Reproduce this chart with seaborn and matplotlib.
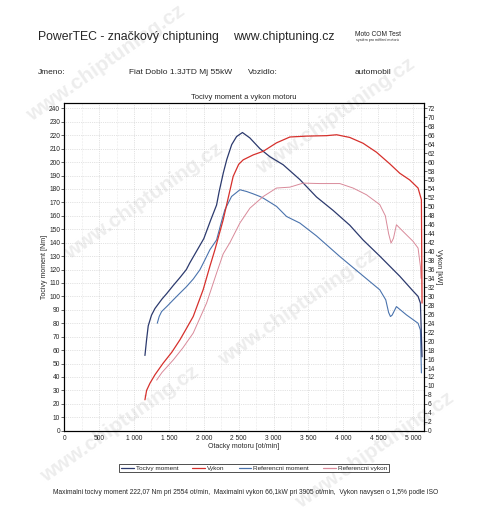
import matplotlib
matplotlib.use('Agg')
import matplotlib.pyplot as plt
import matplotlib.ticker as mticker
import seaborn as sns
import pandas as pd

# Tocivy moment [Nm]
moment_rpm = [1156, 1180, 1203, 1250, 1300, 1400, 1467, 1560, 1658, 1750, 1800, 1900, 2000,
              2100, 2183, 2220, 2280, 2330, 2400, 2470, 2554, 2660, 2804, 2947, 3138, 3377,
              3616, 3854, 4093, 4284, 4523, 4810, 5000, 5072, 5106, 5129]
moment_nm = [56, 68, 78, 86, 91, 98, 102, 108, 114, 120, 125, 134, 143,
             157, 168, 178, 192, 202, 213, 219, 222, 218, 210, 204, 198, 187,
             174, 164, 153, 142, 130, 115, 104, 100, 95, 55]

# Vykon [kW]
vykon_rpm = [1156, 1180, 1228, 1300, 1418, 1540, 1658, 1750, 1848, 1991, 2087, 2159, 2278,
             2350, 2421, 2500, 2565, 2708, 2851, 3043, 3234, 3473, 3759, 3905, 4093, 4284,
             4476, 4667, 4810, 4953, 5072, 5120, 5129]
vykon_kw = [6.9, 9.0, 10.6, 12.5, 15.1, 17.5, 20.3, 22.8, 25.5, 31.5, 36.7, 40.4, 47.1,
            52.0, 56.8, 59.5, 60.5, 61.6, 62.4, 64.3, 65.6, 65.8, 65.9, 66.1, 65.5, 64.2,
            62.2, 59.6, 57.5, 56.0, 54.2, 51.6, 28.5]

# Referencni moment [Nm]
ref_moment_rpm = [1333, 1360, 1395, 1480, 1562, 1650, 1753, 1850, 1944, 2016, 2087, 2183,
                  2250, 2302, 2398, 2518, 2613, 2700, 2804, 2851, 3043, 3186, 3377, 3616,
                  3950, 4236, 4523, 4609, 4650, 4676, 4700, 4762, 4906, 5072, 5106, 5120]
ref_moment_nm = [80, 85, 88.7, 93, 97.4, 102, 107.3, 113, 119.8, 127.2, 134.7, 142,
                 155, 164.5, 174.4, 179.4, 178.1, 176.5, 174.4, 173.2, 167, 159.5, 154.6, 145,
                 129.7, 117.3, 104.9, 97.4, 88, 85, 86, 92.4, 86.2, 80, 75, 43]

# Referencni vykon [kW]
ref_vykon_rpm = [1324, 1400, 1562, 1700, 1848, 2040, 2183, 2278, 2374, 2518, 2661, 2851,
                 3043, 3234, 3424, 3663, 3950, 4140, 4332, 4523, 4603, 4650, 4685, 4720,
                 4762, 4857, 5000, 5072, 5106, 5115]
ref_vykon_kw = [11.3, 13.0, 15.8, 18.5, 21.8, 28.5, 35.2, 39.5, 42.0, 46.4, 49.7, 52.3,
                54.2, 54.4, 55.3, 55.2, 55.2, 54.2, 52.7, 50.5, 48.0, 44.0, 41.9, 43.0,
                46.0, 44.5, 42.3, 40.8, 36.7, 34.0]

c_moment = '#2c3a6e'
c_vykon = '#d6302c'
c_ref_moment = '#4a73ad'
c_ref_vykon = '#d98a9a'

sns.set_style('white')
plt.rcParams['font.family'] = ['Liberation Sans', 'DejaVu Sans']

fig = plt.figure(figsize=(4.8, 5.3), dpi=100)

# watermark behind everything
for wx, wy in [(0.25, 0.2), (0.62, 0.42), (0.3, 0.62), (0.7, 0.78), (0.78, 0.15), (0.22, 0.88)]:
    fig.text(wx, wy, 'www.chiptuning.cz', fontsize=15, fontweight='bold', color='#ededed',
             rotation=35, ha='center', va='center', zorder=-10)

ax = fig.add_axes([0.134, 0.1874, 0.749, 0.6183])
ax.patch.set_alpha(0)
ax2 = ax.twinx()

df_m = pd.DataFrame({'rpm': moment_rpm, 'val': moment_nm})
df_rm = pd.DataFrame({'rpm': ref_moment_rpm, 'val': ref_moment_nm})
df_v = pd.DataFrame({'rpm': vykon_rpm, 'val': vykon_kw})
df_rv = pd.DataFrame({'rpm': ref_vykon_rpm, 'val': ref_vykon_kw})

sns.lineplot(data=df_rm, x='rpm', y='val', ax=ax, color=c_ref_moment, lw=0.8, sort=False)
sns.lineplot(data=df_m, x='rpm', y='val', ax=ax, color=c_moment, lw=0.9, sort=False)
sns.lineplot(data=df_rv, x='rpm', y='val', ax=ax2, color=c_ref_vykon, lw=0.7, sort=False)
sns.lineplot(data=df_v, x='rpm', y='val', ax=ax2, color=c_vykon, lw=0.9, sort=False)

ax.set_xlim(0, 5155)
ax.set_ylim(0, 244)
ax2.set_ylim(0, 244 * 0.3)

ax.xaxis.set_major_locator(mticker.MultipleLocator(500))
ax.xaxis.set_major_formatter(mticker.FuncFormatter(lambda v, p: f'{int(v):,}'.replace(',', ' ')))
ax.yaxis.set_major_locator(mticker.MultipleLocator(10))
ax2.yaxis.set_major_locator(mticker.MultipleLocator(2))

ax.grid(True, which='major', color='#c8c8c8', lw=0.5, ls=':')
ax.xaxis.set_minor_locator(mticker.MultipleLocator(250))
ax.grid(True, which='minor', axis='x', color='#d8d8d8', lw=0.4, ls=':')

for a in (ax, ax2):
    a.tick_params(axis='both', labelsize=4.8, length=2, width=0.5, pad=1)
    for s in a.spines.values():
        s.set_color('black')
        s.set_linewidth(0.8)
ax.tick_params(axis='x', which='minor', length=0)

ax.set_xlabel('Otacky motoru [ot/min]', fontsize=5, labelpad=1)
ax.set_ylabel('Tocivy moment [Nm]', fontsize=5, labelpad=1)
ax2.set_ylabel('Vykon [kW]', fontsize=5, rotation=270, labelpad=5)
ax.set_title('Tocivy moment a vykon motoru', fontsize=5.5, pad=3)

# header texts
fig.text(38 / 480, 1 - 37 / 530, 'PowerTEC - značkový chiptuning', fontsize=8.8, va='center')
fig.text(233 / 480, 1 - 37 / 530, 'www.chiptuning.cz', fontsize=8.8, va='center')
fig.text(355 / 480, 1 - 34 / 530, 'Moto COM Test', fontsize=4.8, va='center')
fig.text(356 / 480, 1 - 40.5 / 530, 'systém pro měření motorů', fontsize=2.6, va='center')
fig.text(38 / 480, 1 - 72 / 530, 'Jmeno:', fontsize=6, va='center')
fig.text(129 / 480, 1 - 72 / 530, 'Fiat Doblo 1.3JTD Mj 55kW', fontsize=6, va='center')
fig.text(248 / 480, 1 - 72 / 530, 'Vozidlo:', fontsize=6, va='center')
fig.text(355 / 480, 1 - 72 / 530, 'automobil', fontsize=6, va='center')

handles = [plt.Line2D([], [], color=c_moment, lw=0.9),
           plt.Line2D([], [], color=c_vykon, lw=0.9),
           plt.Line2D([], [], color=c_ref_moment, lw=0.9),
           plt.Line2D([], [], color=c_ref_vykon, lw=0.9)]
labels = ['Tocivy moment', 'Vykon', 'Referencni moment', 'Referencni vykon']
leg = fig.legend(handles, labels, loc='center', bbox_to_anchor=(254 / 480, 1 - 468 / 530), ncol=4,
                 fontsize=4.6, frameon=True, fancybox=False, edgecolor='black', borderpad=0.25,
                 handlelength=2.0, handletextpad=0.3, columnspacing=2.2)
leg.get_frame().set_linewidth(0.6)

fig.text(246 / 480, 1 - 493 / 530,
         'Maximalni tocivy moment 222,07 Nm pri 2554 ot/min,  Maximalni vykon 66,1kW pri 3905 ot/min,  Vykon navysen o 1,5% podle ISO',
         fontsize=4.75, ha='center', va='center')

fig.savefig('out.png', dpi=100)
